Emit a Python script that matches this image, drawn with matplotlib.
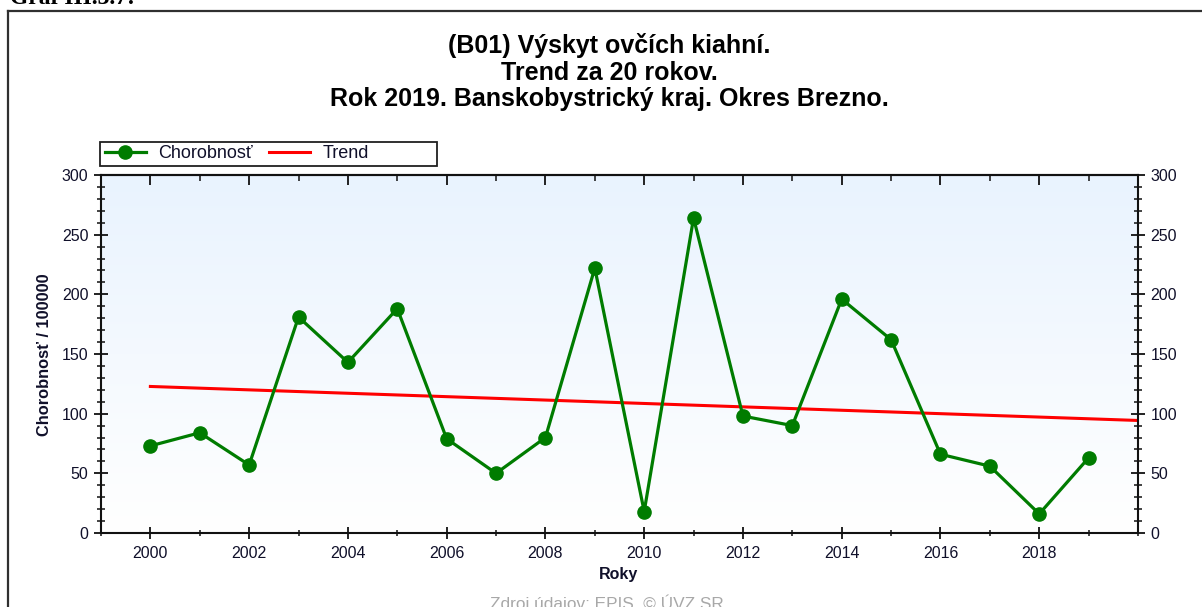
import numpy as np
import matplotlib
matplotlib.use("Agg")
import matplotlib.pyplot as plt
from matplotlib.colors import LinearSegmentedColormap
from matplotlib.lines import Line2D
from matplotlib.patches import Rectangle
from matplotlib.ticker import MultipleLocator

# ---- data ----
years = [2000, 2001, 2002, 2003, 2004, 2005, 2006, 2007, 2008, 2009,
         2010, 2011, 2012, 2013, 2014, 2015, 2016, 2017, 2018, 2019]
chorobnost = [73, 84, 57, 181, 143, 188, 79, 50, 80, 222,
              18, 264, 98, 90, 196, 162, 66, 56, 16, 63]
trend_years = [2000, 2020]
trend_values = [122.8, 94.3]
x_tick_labels = ['2000', '2002', '2004', '2006', '2008', '2010', '2012', '2014', '2016', '2018']
y_ticks = [0, 50, 100, 150, 200, 250, 300]

title = "(B01) Výskyt ovčích kiahní.\nTrend za 20 rokov.\nRok 2019. Banskobystrický kraj. Okres Brezno."

W, H = 1202, 607
plt.rcParams['font.family'] = ['Liberation Sans', 'DejaVu Sans']
fig = plt.figure(figsize=(W / 100, H / 100), dpi=100)
fig.patch.set_facecolor('white')

def fx(px):
    return px / W

def fy(py):
    return 1 - py / H

TXT = '#10102a'

# outer frame (partially visible)
fig.add_artist(Line2D([fx(8), fx(8)], [fy(11), fy(620)], color='#303030', lw=1.6))
fig.add_artist(Line2D([fx(8), fx(1210)], [fy(11), fy(11)], color='#303030', lw=1.6))
# cut-off caption above the frame
fig.text(fx(10), fy(3.5), "Graf III.3.7:", family='Liberation Serif', weight='bold',
         fontsize=17, ha='left', va='baseline', color='black')

ax_l, ax_r, ax_t, ax_b = 101, 1138, 175, 533
ax = fig.add_axes([fx(ax_l), fy(ax_b), fx(ax_r) - fx(ax_l), fy(ax_t) - fy(ax_b)])

# gradient background
cmap = LinearSegmentedColormap.from_list('bg', ['#FFFFFF', '#E9F3FE'])
ax.imshow(np.linspace(0, 1, 256).reshape(-1, 1), cmap=cmap, origin='lower',
          extent=[0, 1, 0, 1], transform=ax.transAxes, aspect='auto', zorder=0)

ax.plot(trend_years, trend_values, color='#FF0000', lw=2.2, zorder=2, label='Trend')
ax.plot(years, chorobnost, color='#007C00', lw=2.3, marker='o', markersize=9.5,
        markerfacecolor='#007C00', markeredgecolor='#007C00', zorder=3, label='Chorobnosť')

ax.set_xlim(1999, 2020)
ax.set_ylim(0, 300)

ax.set_xticks([int(t) for t in x_tick_labels])
ax.set_xticklabels(x_tick_labels)
ax.xaxis.set_minor_locator(MultipleLocator(1))
ax.set_yticks(y_ticks)
ax.yaxis.set_minor_locator(MultipleLocator(10))

for s in ax.spines.values():
    s.set_linewidth(1.5)
    s.set_color('#111111')

ax.tick_params(axis='x', which='major', direction='inout', length=9, width=1.3,
               labelsize=11.5, pad=5, colors='#111111', labelcolor=TXT, top=False)
ax.tick_params(axis='x', which='minor', direction='inout', length=5, width=1.1,
               colors='#111111', top=False)
ax.tick_params(axis='y', which='major', direction='inout', length=10, width=1.3,
               labelsize=11.5, pad=4, colors='#111111', labelcolor=TXT,
               left=True, right=True, labelleft=True, labelright=True)
ax.tick_params(axis='y', which='minor', direction='inout', length=6, width=1.1,
               colors='#111111', left=True, right=True)

# top axis with inward ticks
sec = ax.secondary_xaxis('top')
sec.set_xticks([int(t) for t in x_tick_labels])
sec.xaxis.set_minor_locator(MultipleLocator(1))
sec.tick_params(axis='x', which='major', direction='in', length=7, width=1.3,
                labeltop=False, colors='#111111')
sec.tick_params(axis='x', which='minor', direction='in', length=4, width=1.1,
                colors='#111111')
sec.spines['top'].set_linewidth(1.5)

# axis labels
fig.text(fx(618), fy(575), 'Roky', weight='bold', fontsize=11.5, ha='center',
         va='center', color=TXT)
fig.text(fx(44.5), fy(355), 'Chorobnosť / 100000', weight='bold', fontsize=11.8,
         rotation=90, ha='center', va='center', color=TXT)

# title
fig.text(fx(609), fy(72), title, weight='bold', fontsize=18, ha='center',
         va='center', color='black', linespacing=1.13)

# source (cut off at the bottom edge as in the original)
fig.text(fx(607), fy(594), 'Zdroj údajov: EPIS, © ÚVZ SR', fontsize=12.4,
         ha='center', va='top', color='#A8A8A8')

# legend
fig.add_artist(Rectangle((fx(100), fy(166)), fx(437) - fx(100), fy(142) - fy(166),
                         transform=fig.transFigure, fill=False, edgecolor='#202020', lw=1.3))
handles, labels = ax.get_legend_handles_labels()
leg = fig.legend(handles[::-1], labels[::-1], loc='center left',
                 bbox_to_anchor=(fx(105), fy(154)), ncol=2, frameon=False,
                 fontsize=13, handlelength=2.25, handletextpad=0.7,
                 columnspacing=0.9, borderpad=0, borderaxespad=0)
for t in leg.get_texts():
    t.set_color(TXT)

fig.savefig('out.png', dpi=100, facecolor='white')
